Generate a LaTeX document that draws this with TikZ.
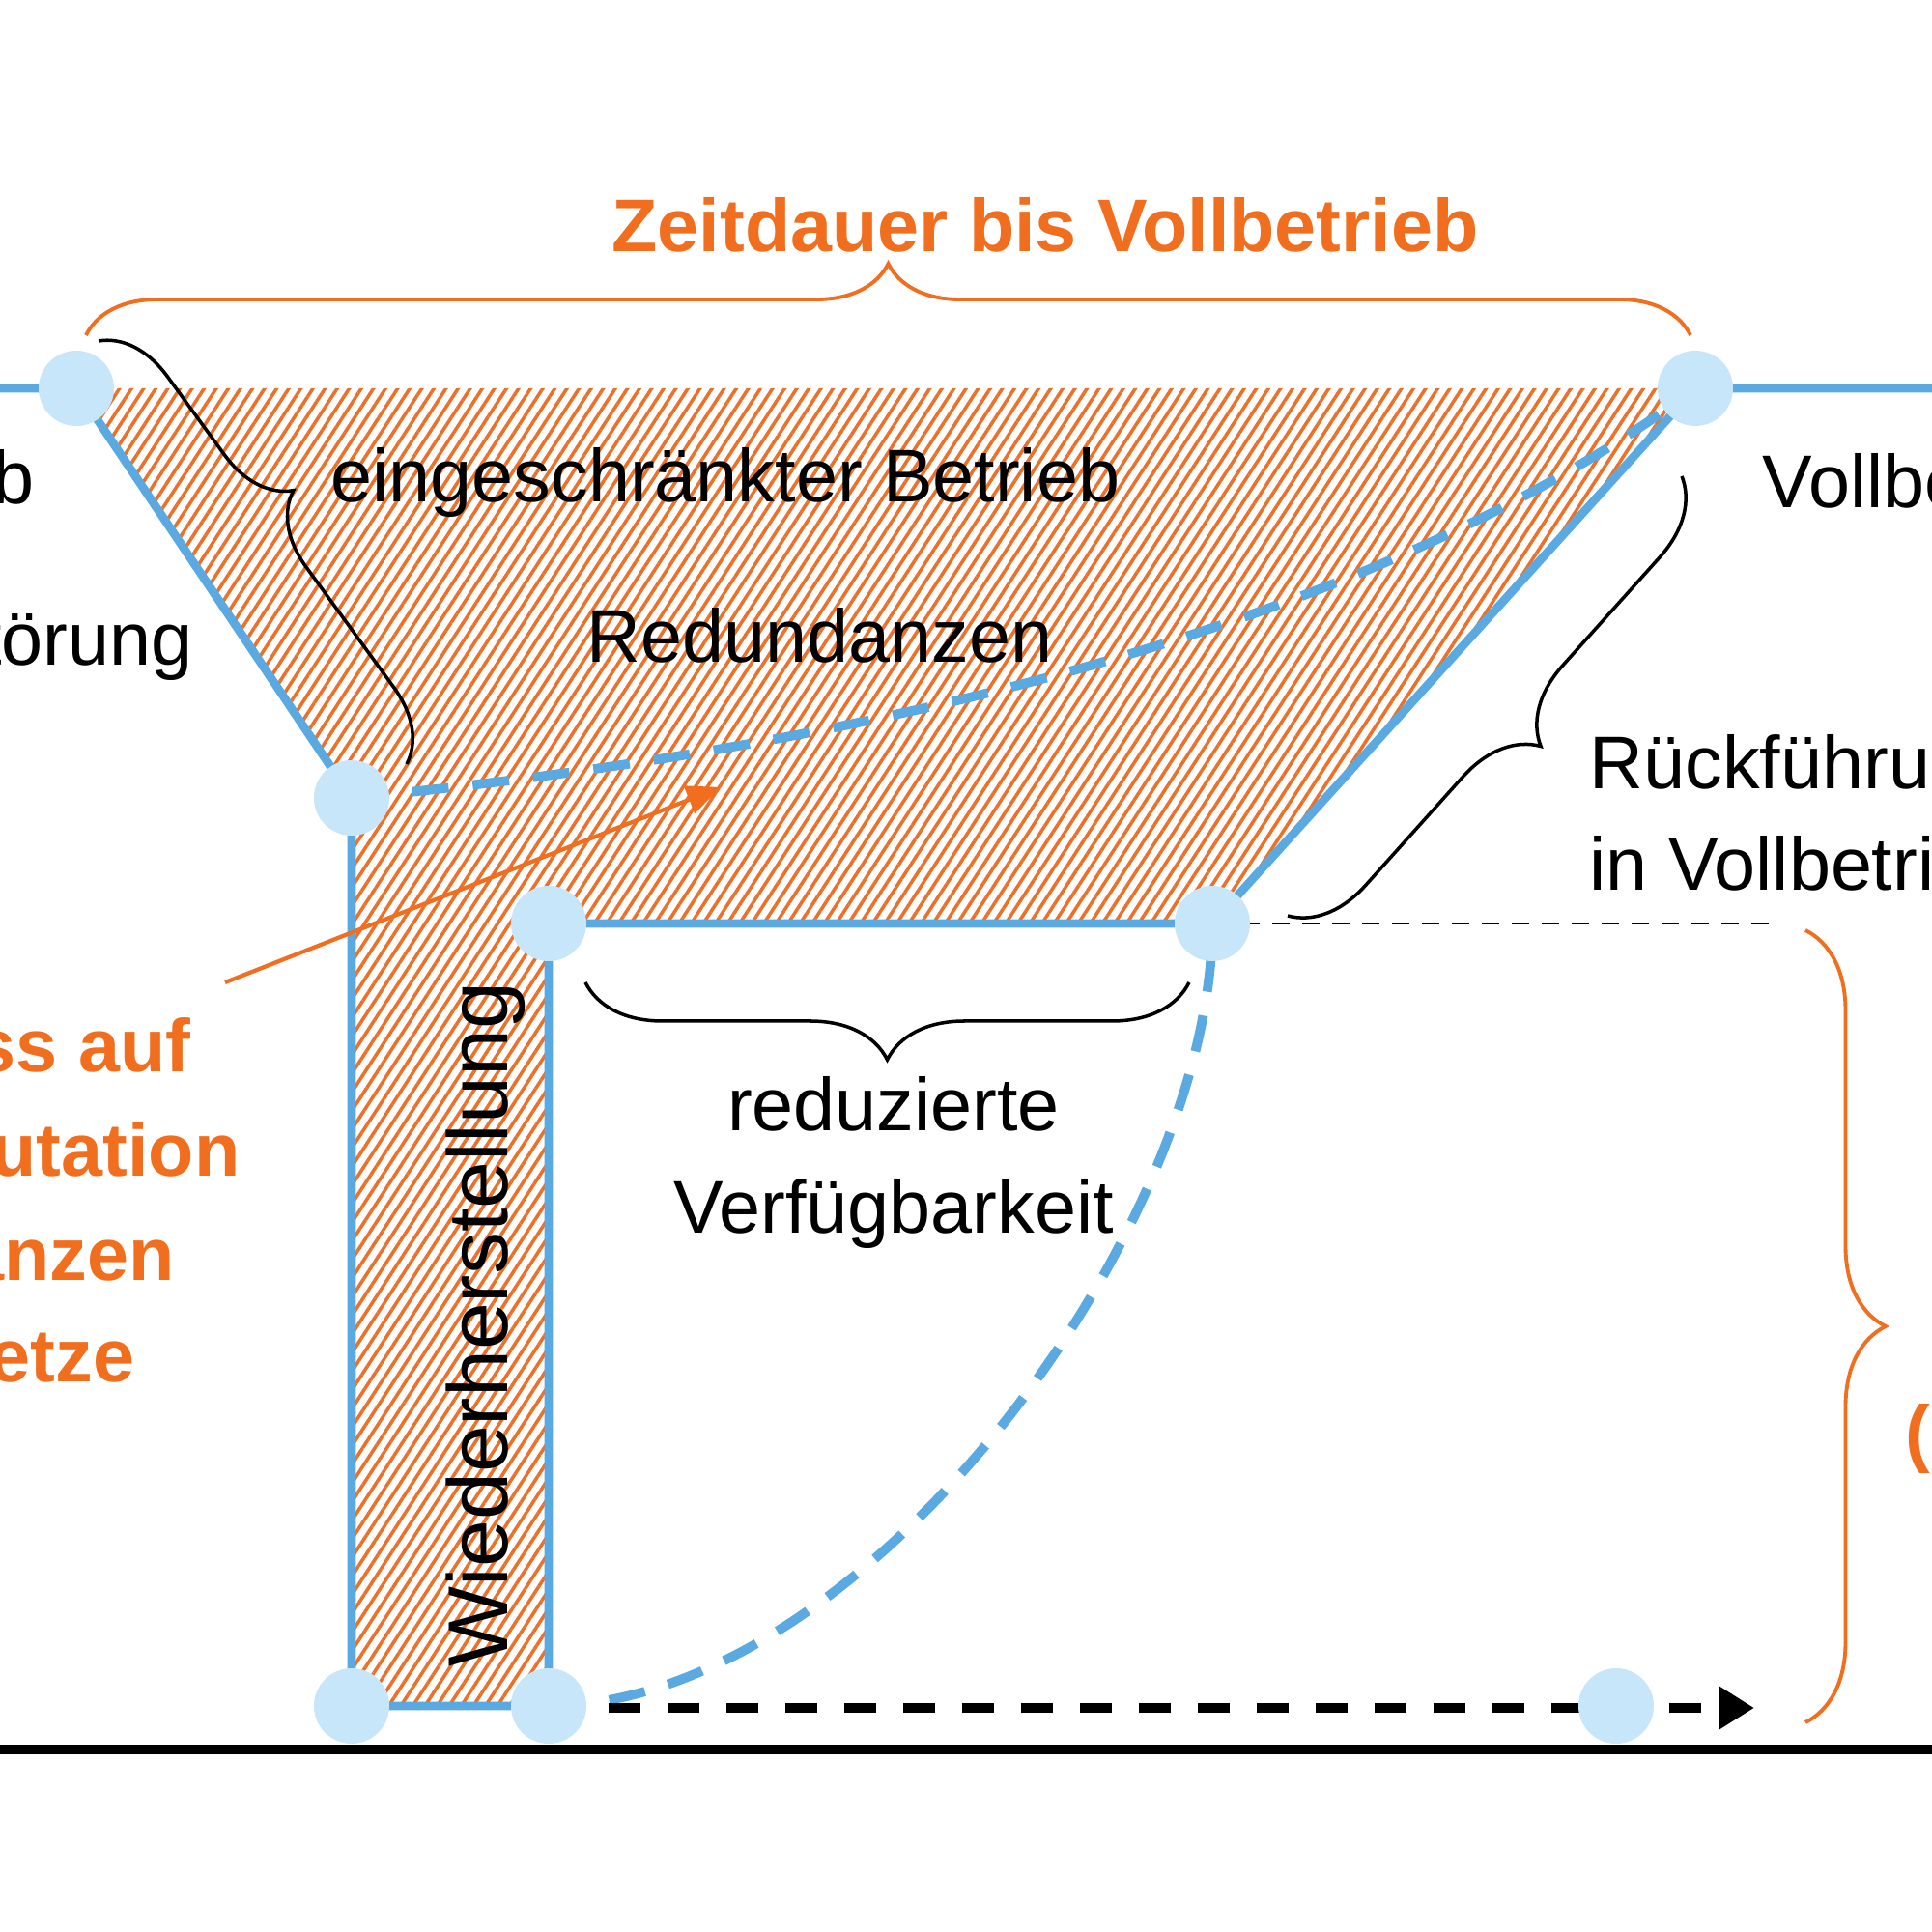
\documentclass[tikz,border=0pt]{standalone}
\usepackage{fontspec}
\setmainfont{Liberation Sans}
\usetikzlibrary{patterns.meta,decorations.pathreplacing,arrows.meta}
\definecolor{orng}{RGB}{240,110,30}
\definecolor{bluel}{RGB}{90,170,225}
\definecolor{dotc}{RGB}{200,230,250}
\definecolor{hatchc}{RGB}{236,112,40}
\begin{document}
\begin{tikzpicture}[
  blueline/.style={draw=bluel, line width=2.5pt},
  bluedash/.style={draw=bluel, line width=2.8pt, dash pattern=on 0.38cm off 0.25cm},
  dot/.style={circle, fill=dotc, minimum size=0.78cm, inner sep=0pt},
  blkbrace/.style={draw=black, line width=1pt, decorate},
  orbrace/.style={draw=orng, line width=1.1pt, decorate},
  lbl/.style={font=\fontsize{22}{26}\selectfont, inner sep=0pt},
  olbl/.style={font=\fontsize{22}{26}\selectfont\bfseries, text=orng, inner sep=0pt},
]
\useasboundingbox (0,0) rectangle (20,20);
\clip (0,0) rectangle (20,20);
\fill[white] (0,0) rectangle (20,20);

% key positions
\coordinate (TL) at (0.79,15.98);
\coordinate (TR) at (17.55,15.98);
\coordinate (ML) at (3.64,11.74);
\coordinate (B)  at (5.68,10.44);
\coordinate (C)  at (12.55,10.44);
\coordinate (BL) at (3.64,2.34);
\coordinate (BM) at (5.68,2.34);
\coordinate (BR) at (16.73,2.34);
\coordinate (L0) at (0,15.98);
\coordinate (R0) at (20,15.98);
\coordinate (DE) at (18.37,10.44);
\coordinate (AE) at (18.16,2.32);
\coordinate (AS) at (6.30,2.32);
\coordinate (G0) at (0,1.89);
\coordinate (G1) at (20,1.89);

% hatched area
\fill[pattern={Lines[angle=57,distance=1.05mm,line width=1pt]}, pattern color=hatchc]
  (TL) -- (TR) -- (C) -- (B) -- (BM) -- (BL) -- (ML) -- cycle;

% base axis
\draw[line width=2.6pt] (G0) -- (G1);

% blue outline
\draw[blueline] (L0) -- (TL) -- (ML) -- (BL) -- (BM) -- (B) -- (C) -- (TR) -- (R0);

% dashed curves
\draw[bluedash] (ML) .. controls (9.5,12.3) and (14.5,13.7) .. (TR);
\draw[bluedash] (BM) .. controls (8.93,2.36) and (12.55,7.24) .. (C);

% black dashed lines
\draw[line width=0.8pt, dash pattern=on 0.18cm off 0.13cm] (C) -- (DE);
\draw[line width=2.6pt, dash pattern=on 0.33cm off 0.28cm, -{Triangle[length=0.36cm,width=0.42cm]}] (AS) -- (AE);

% circles
\node[dot] (tlc) at (TL) {};
\node[dot] (trc) at (TR) {};
\node[dot] (mlc) at (ML) {};
\node[dot] (bc)  at (B) {};
\node[dot] (cc)  at (C) {};
\node[dot] (blc) at (BL) {};
\node[dot] (bmc) at (BM) {};
\node[dot] (brc) at (BR) {};

% braces
\coordinate (ob1) at (0.89,16.53);
\coordinate (ob2) at (17.50,16.53);
\draw[orbrace, decoration={brace, amplitude=0.74cm}] (ob1) -- (ob2);
\coordinate (kb1) at (1.02,16.47);
\coordinate (kb2) at (4.21,12.09);
\draw[blkbrace, decoration={brace, amplitude=0.72cm, aspect=0.45}] (kb1) -- (kb2);
\coordinate (rb1) at (17.41,15.07);
\coordinate (rb2) at (13.33,10.52);
\draw[blkbrace, decoration={brace, amplitude=0.78cm, aspect=0.5}] (rb1) -- (rb2);
\coordinate (vb1) at (12.31,9.83);
\coordinate (vb2) at (6.06,9.83);
\draw[blkbrace, decoration={brace, amplitude=0.8cm}] (vb1) -- (vb2);
\coordinate (sb1) at (18.69,10.37);
\coordinate (sb2) at (18.69,2.17);
\draw[orbrace, decoration={brace, amplitude=0.83cm}] (sb1) -- (sb2);

% orange arrow
\coordinate (oa1) at (2.33,9.83);
\coordinate (oa2) at (7.46,11.85);
\draw[draw=orng, line width=1.2pt, -{Triangle[length=0.35cm,width=0.3cm]}] (oa1) -- (oa2);

% texts
\node[olbl, anchor=base] (title) at (10.82,17.39) {Zeitdauer bis Vollbetrieb};
\node[lbl, anchor=base west] (eing) at (3.42,14.80) {eingeschränkter Betrieb};
\node[lbl, anchor=base west] (red) at (6.07,13.14) {Redundanzen};
\node[lbl, anchor=base east] (lb) at (0.36,14.78) {b};
\node[lbl, anchor=base east] (lst) at (2.00,13.11) {törung};
\node[lbl, anchor=base west] (voll) at (18.24,14.74) {Vollbe};
\node[lbl, anchor=base west] (rueck) at (16.45,11.83) {Rückführu};
\node[lbl, anchor=base west] (involl) at (16.45,10.78) {in Vollbetri};
\node[lbl, anchor=base] (redu) at (9.25,8.29) {reduzierte};
\node[lbl, anchor=base] (verf) at (9.25,7.23) {Verfügbarkeit};
\node[inner sep=0pt, font=\fontsize{25}{30}\selectfont, rotate=90, anchor=base] (wied) at (5.25,6.29) {Wiederherstellung};
\node[olbl, anchor=base east] (o1) at (1.98,8.90) {ss auf};
\node[olbl, anchor=base east] (o2) at (2.49,7.82) {utation};
\node[olbl, anchor=base east] (o3) at (1.81,6.74) {anzen};
\node[olbl, anchor=base east] (o4) at (1.40,5.69) {etze};
\node[olbl, anchor=base west] (o5) at (19.72,4.90) {(};
\end{tikzpicture}
\end{document}
